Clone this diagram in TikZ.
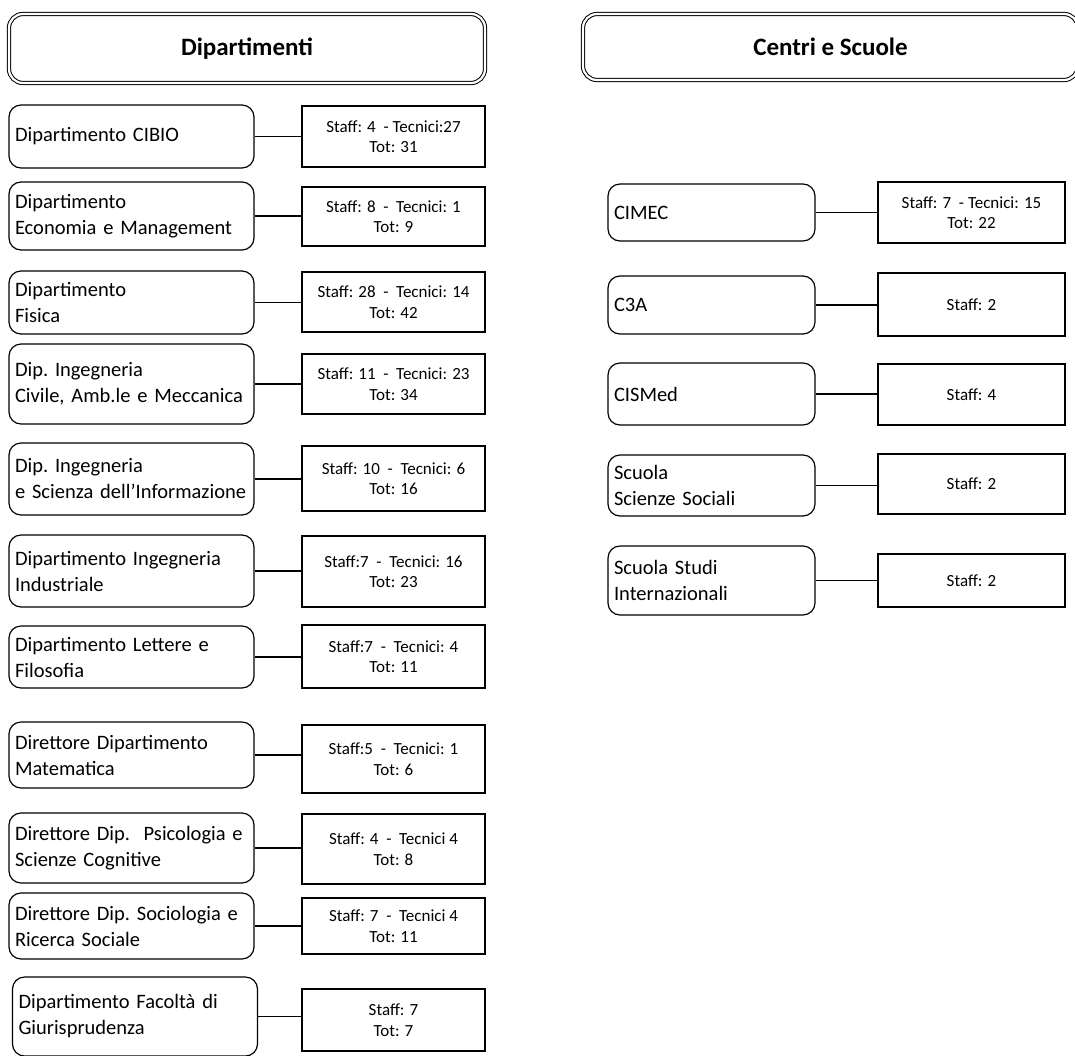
\documentclass[tikz,border=0pt]{standalone}
\usepackage{fontspec}
\setmainfont{Carlito}
\begin{document}
\begin{tikzpicture}[x=1pt,y=-1pt,
    dept/.style={shape=rectangle,draw=black,line width=1.2pt,rounded corners=12pt,inner xsep=6pt,text width=233pt,align=left,font=\fontsize{20.5}{26}\selectfont\frenchspacing},
    centro/.style={dept,text width=195pt},
    staff/.style={shape=rectangle,draw=black,line width=1.2pt,minimum width=183pt,align=center,font=\fontsize{17}{20.5}\selectfont},
    staffc/.style={staff,minimum width=187pt},
    titolo/.style={shape=rectangle,draw=black,double,double distance=2.2pt,line width=1pt,rounded corners=14pt,font=\fontsize{25}{30}\selectfont\bfseries}]
    \useasboundingbox (0,0) rectangle (1075,1055);

    % intestazioni
    \node[titolo,minimum width=476pt,minimum height=69pt] (DIP) at (247,48.5) {Dipartimenti};
    \node[titolo,minimum width=495pt,minimum height=66pt] (CS)  at (830.5,47) {Centri e Scuole};

    % dipartimenti
    \node[dept,minimum height=63pt] (CIBIO) at (131.5,136.5) {Dipartimento CIBIO};
    \node[dept,minimum height=68pt] (ECO)   at (131.5,216)   {Dipartimento\\Economia e Management};
    \node[dept,minimum height=63pt] (FIS)   at (131.5,302.5) {Dipartimento\\Fisica};
    \node[dept,minimum height=80pt] (DICAM) at (131.5,384)   {Dip. Ingegneria\\Civile, Amb.le e Meccanica};
    \node[dept,minimum height=72pt] (DISI)  at (131.5,479)   {Dip. Ingegneria\\e Scienza dell’Informazione};
    \node[dept,minimum height=72pt] (DII)   at (131.5,571)   {Dipartimento Ingegneria\\Industriale};
    \node[dept,minimum height=62pt] (LETT)  at (131.5,657)   {Dipartimento Lettere e\\Filosofia};
    \node[dept,minimum height=66pt] (MAT)   at (131.5,755)   {Direttore Dipartimento\\Matematica};
    \node[dept,minimum height=70pt] (PSI)   at (131.5,848)   {Direttore Dip.\ \ Psicologia e\\Scienze Cognitive};
    \node[dept,minimum height=66pt] (SOC)   at (131.5,926)   {Direttore Dip. Sociologia e\\Ricerca Sociale};
    \node[dept,minimum height=79pt] (GIUR)  at (135,1016.5)  {Dipartimento Facoltà di\\Giurisprudenza};

    \node[staff,minimum height=61pt] (sCIBIO) at (393.5,136.5) {Staff: 4\ \ - Tecnici:27\\Tot: 31};
    \node[staff,minimum height=59pt] (sECO)   at (393.5,216.5) {Staff: 8\ \ -\ \ Tecnici: 1\\Tot: 9};
    \node[staff,minimum height=60pt] (sFIS)   at (393.5,302)   {Staff: 28\ \ -\ \ Tecnici: 14\\Tot: 42};
    \node[staff,minimum height=60pt] (sDICAM) at (393.5,384)   {Staff: 11\ \ -\ \ Tecnici: 23\\Tot: 34};
    \node[staff,minimum height=65pt] (sDISI)  at (393.5,478.5) {Staff: 10\ \ -\ \ Tecnici: 6\\Tot: 16};
    \node[staff,minimum height=71pt] (sDII)   at (393.5,571.5) {Staff:7\ \ -\ \ Tecnici: 16\\Tot: 23};
    \node[staff,minimum height=63pt] (sLETT)  at (393.5,656.5) {Staff:7\ \ -\ \ Tecnici: 4\\Tot: 11};
    \node[staff,minimum height=68pt] (sMAT)   at (393.5,759)   {Staff:5\ \ -\ \ Tecnici: 1\\Tot: 6};
    \node[staff,minimum height=70pt] (sPSI)   at (393.5,849)   {Staff: 4\ \ -\ \ Tecnici 4\\Tot: 8};
    \node[staff,minimum height=56pt] (sSOC)   at (393.5,926)   {Staff: 7\ \ -\ \ Tecnici 4\\Tot: 11};
    \node[staff,minimum height=62pt] (sGIUR)  at (393.5,1020)  {Staff: 7\\Tot: 7};

    % centri e scuole
    \node[centro,minimum height=57pt] (CIMEC)  at (711.5,212.5) {CIMEC};
    \node[centro,minimum height=58pt] (CTRA)   at (711.5,305)   {C3A};
    \node[centro,minimum height=62pt] (CISMED) at (711.5,394)   {CISMed};
    \node[centro,minimum height=61pt] (SSS)    at (711.5,485.5) {Scuola\\Scienze Sociali};
    \node[centro,minimum height=69pt] (SSI)    at (711.5,580.5) {Scuola Studi\\Internazionali};

    \node[staffc,minimum height=61pt] (sCIMEC)  at (971.5,212.5) {Staff: 7\ \ - Tecnici: 15\\Tot: 22};
    \node[staffc,minimum height=63pt] (sCTRA)   at (971.5,304.5) {Staff: 2};
    \node[staffc,minimum height=61pt] (sCISMED) at (971.5,394.5) {Staff: 4};
    \node[staffc,minimum height=60pt] (sSSS)    at (971.5,484)   {Staff: 2};
    \node[staffc,minimum height=53pt] (sSSI)    at (971.5,580.5) {Staff: 2};

    \path [-,line width=1.2pt] (CIBIO.east)  edge (CIBIO.east -| sCIBIO.west);
    \path [-,line width=1.2pt] (ECO.east)    edge (ECO.east -| sECO.west);
    \path [-,line width=1.2pt] (FIS.east)    edge (FIS.east -| sFIS.west);
    \path [-,line width=1.2pt] (DICAM.east)  edge (DICAM.east -| sDICAM.west);
    \path [-,line width=1.2pt] (DISI.east)   edge (DISI.east -| sDISI.west);
    \path [-,line width=1.2pt] (DII.east)    edge (DII.east -| sDII.west);
    \path [-,line width=1.2pt] (LETT.east)   edge (LETT.east -| sLETT.west);
    \path [-,line width=1.2pt] (MAT.east)    edge (MAT.east -| sMAT.west);
    \path [-,line width=1.2pt] (PSI.east)    edge (PSI.east -| sPSI.west);
    \path [-,line width=1.2pt] (SOC.east)    edge (SOC.east -| sSOC.west);
    \path [-,line width=1.2pt] (GIUR.east)   edge (GIUR.east -| sGIUR.west);
    \path [-,line width=1.2pt] (CIMEC.east)  edge (CIMEC.east -| sCIMEC.west);
    \path [-,line width=1.2pt] (CTRA.east)   edge (CTRA.east -| sCTRA.west);
    \path [-,line width=1.2pt] (CISMED.east) edge (CISMED.east -| sCISMED.west);
    \path [-,line width=1.2pt] (SSS.east)    edge (SSS.east -| sSSS.west);
    \path [-,line width=1.2pt] (SSI.east)    edge (SSI.east -| sSSI.west);
\end{tikzpicture}
\end{document}
